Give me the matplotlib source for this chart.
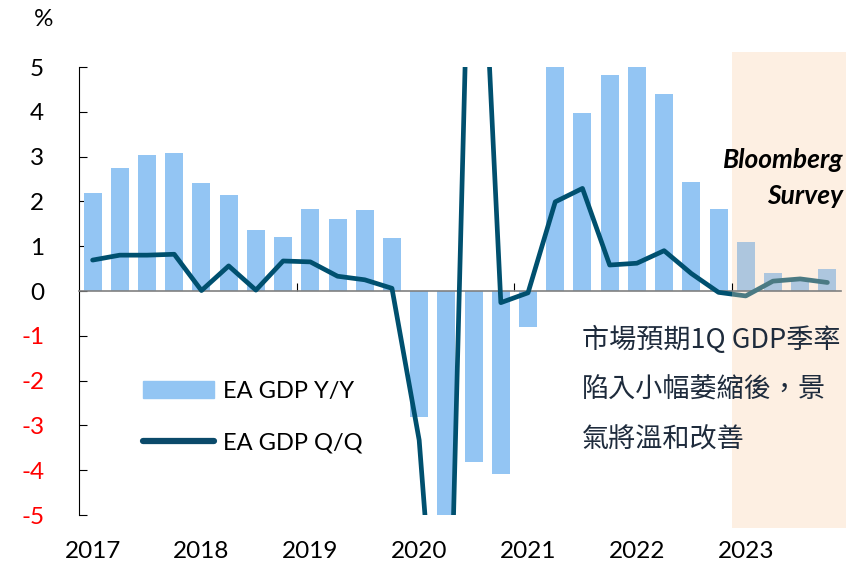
import numpy as np
import matplotlib.pyplot as plt
from matplotlib.patches import Rectangle
from matplotlib.transforms import blended_transform_factory

plt.rcParams['font.family'] = ['Lato', 'DejaVu Sans']

years = [2017, 2018, 2019, 2020, 2021, 2022, 2023]
quarters = [f"{y}Q{q}" for y in years for q in range(1, 5)]

# euro area GDP, %
yoy = [2.18, 2.74, 3.04, 3.09, 2.40, 2.14, 1.36, 1.21,
       1.84, 1.61, 1.81, 1.18, -2.81, -14.5, -3.82, -4.09,
       -0.80, 14.2, 3.98, 4.82, 5.40, 4.39, 2.44, 1.84,
       1.10, 0.41, 0.29, 0.50]
qoq = [0.69, 0.80, 0.80, 0.82, 0.01, 0.56, 0.02, 0.67,
       0.65, 0.33, 0.25, 0.06, -3.33, -11.2, 12.4, -0.26,
       -0.04, 1.99, 2.29, 0.58, 0.62, 0.90, 0.39, -0.03,
       -0.11, 0.22, 0.27, 0.19]
first_forecast = "2023Q1"

note_lines = ["市場預期1Q GDP季率", "陷入小幅萎縮後，景", "氣將溫和改善"]

bar_col = "#93c5f3"
bar_fc_col = "#adc6de"
line_col = "#00506f"
line_fc_col = "#4b7a83"
shade_col = "#fdefe2"

fc = quarters.index(first_forecast)
x = np.arange(len(quarters)) + 0.5

fig = plt.figure(figsize=(8.58, 5.64), dpi=100)
ax = fig.add_axes([79 / 858, 49 / 564, 762 / 858, 448 / 564])
ax.set_xlim(0, len(quarters))
ax.set_ylim(-5, 5)

# forecast shading
ax.add_patch(Rectangle((fc, -5.3), len(quarters) - fc + 0.2, 10.63,
                       color=shade_col, zorder=0, clip_on=False, lw=0))

colors = [bar_col if i < fc else bar_fc_col for i in range(len(quarters))]
bars = ax.bar(x, yoy, width=0.66, color=colors, zorder=2, label="EA GDP Y/Y")

hist_line, = ax.plot(x, qoq, color=line_col, lw=3.4, zorder=3,
                     solid_joinstyle='round', solid_capstyle='round',
                     label="EA GDP Q/Q")
hist_line.set_clip_path(Rectangle((0, -5), fc, 10, transform=ax.transData))
fc_line, = ax.plot(x, qoq, color=line_fc_col, lw=3.4, zorder=3,
                   solid_joinstyle='round', solid_capstyle='round')
fc_line.set_clip_path(Rectangle((fc, -5), len(quarters) - fc, 10,
                                transform=ax.transData))

# axes styling
for s in ['top', 'right']:
    ax.spines[s].set_visible(False)
ax.spines['left'].set_color('black')
ax.spines['left'].set_linewidth(0.8)
ax.spines['bottom'].set_position(('data', 0))
ax.spines['bottom'].set_color('#808080')
ax.spines['bottom'].set_linewidth(1.2)
ax.spines['bottom'].set_zorder(2.5)

ax.set_yticks(range(-5, 6))
ax.set_yticklabels([str(v) for v in range(-5, 6)])
for lab, v in zip(ax.get_yticklabels(), range(-5, 6)):
    lab.set_color('red' if v < 0 else 'black')
ax.tick_params(axis='y', direction='in', length=6, width=0.8, pad=25,
               labelsize=17.5)

ax.set_xticks([8, 16, 24])
ax.set_xticklabels([])
ax.tick_params(axis='x', direction='in', length=6, width=0.8, color='black')

trans = blended_transform_factory(ax.transData, ax.transAxes)
for y in years:
    ax.text(x[quarters.index(f"{y}Q1")], -0.082, str(y), transform=trans,
            ha='center', va='center', fontsize=17.5)

fig.text(44 / 858, 1 - 20 / 564, "%", ha='center', va='center', fontsize=17.5)

ax.text(1.003, 0.792, "Bloomberg", transform=ax.transAxes, ha='right',
        va='center', fontsize=19, fontweight='bold', fontstyle='italic')
ax.text(1.003, 0.712, "Survey", transform=ax.transAxes, ha='right',
        va='center', fontsize=19, fontweight='bold', fontstyle='italic')

for k, line in enumerate(note_lines):
    ax.text((582 - 79) / 762, (515 - 340 - 50 * k) / 448, line,
            transform=ax.transAxes, ha='left', va='center', fontsize=19.5,
            color='#1e2b3c', family=['Noto Sans CJK TC', 'DejaVu Sans'],
            zorder=5)

leg = ax.legend(handles=[bars, hist_line], loc='upper left',
                bbox_to_anchor=(0.084, 0.30), frameon=False, fontsize=17,
                handlelength=3.0, handleheight=0.7, handletextpad=0.4,
                labelspacing=1.3, borderpad=0, borderaxespad=0)
leg.get_lines()[0].set_linewidth(4.5)
leg.get_lines()[0].set_color("#0b4a6a")
leg.legend_handles[0].set_color(bar_col)

fig.savefig("out.png", dpi=100)
